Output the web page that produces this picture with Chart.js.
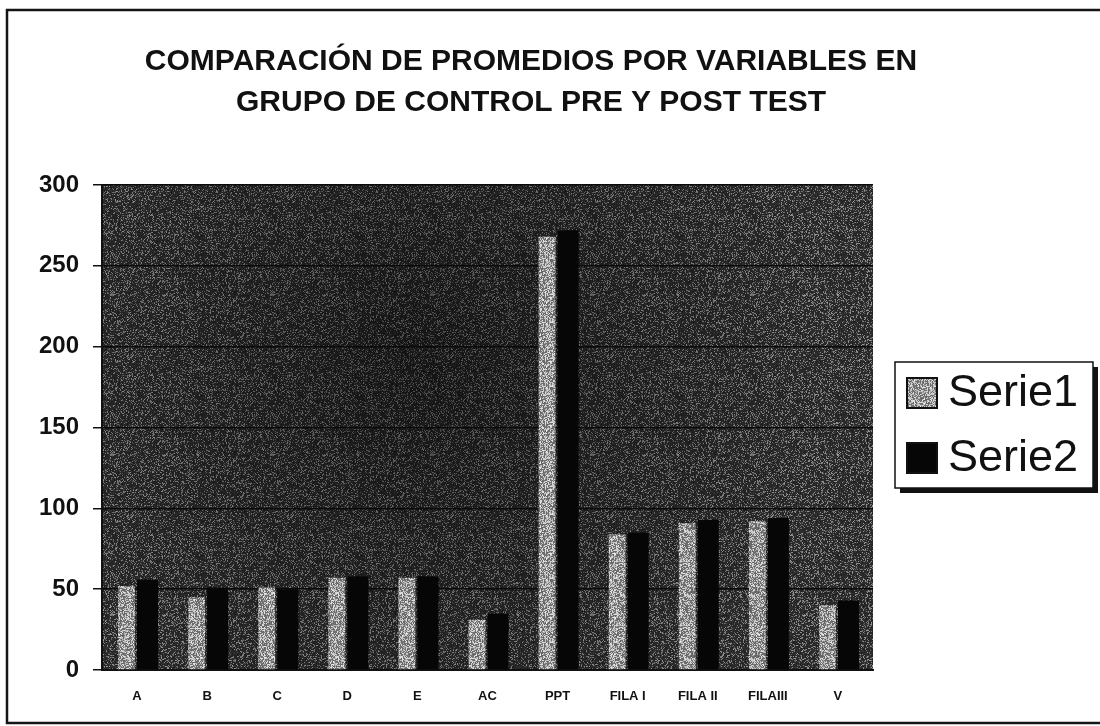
<!DOCTYPE html>
<html>
<head>
<meta charset="utf-8">
<script src="https://cdn.jsdelivr.net/npm/chart.js@4.4.1/dist/chart.umd.min.js"></script>
<style>
  html, body { margin: 0; padding: 0; background: #fff; }
  canvas { display: block; }
</style>
</head>
<body>
<canvas id="chart" width="1100" height="726"></canvas>
<script>
const titleLines = ["COMPARACIÓN DE PROMEDIOS POR VARIABLES EN", "GRUPO DE CONTROL PRE Y POST TEST"];
const categories = ["A", "B", "C", "D", "E", "AC", "PPT", "FILA I", "FILA II", "FILAIII", "V"];
const serie1 = [52, 45, 51, 57, 57, 31, 268, 84, 91, 92, 40];
const serie2 = [56, 51, 50, 58, 58, 35, 272, 85, 93, 94, 43];
const yTicks = [0, 50, 100, 150, 200, 250, 300];
const seriesNames = ["Serie1", "Serie2"];

const canvas = document.getElementById("chart");
const ctx = canvas.getContext("2d");

// speckled texture so fills look like the scanned print
function speckle(size, base, light, density, seed) {
  const c = document.createElement("canvas");
  c.width = c.height = size;
  const g = c.getContext("2d");
  const img = g.createImageData(size, size);
  let s = seed;
  const rnd = () => { s = (s * 1664525 + 1013904223) >>> 0; return s / 4294967296; };
  for (let i = 0; i < size * size; i++) {
    let v = base + (rnd() - 0.5) * 24;
    if (rnd() < density) v = light + (rnd() - 0.5) * 70;
    img.data[i * 4] = img.data[i * 4 + 1] = img.data[i * 4 + 2] = v;
    img.data[i * 4 + 3] = 255;
  }
  g.putImageData(img, 0, 0);
  return ctx.createPattern(c, "repeat");
}

const plotFill = speckle(160, 42, 125, 0.24, 7);
const serie1Fill = speckle(64, 110, 200, 0.5, 13);
const serie2Fill = "#060606";

const paperPlugin = {
  id: "paper",
  beforeDraw(chart) {
    const { ctx, chartArea: a } = chart;
    ctx.save();
    ctx.fillStyle = "#fff";
    ctx.fillRect(0, 0, chart.width, chart.height);

    // outer frame of the scanned page
    ctx.strokeStyle = "#151515";
    ctx.lineWidth = 2.5;
    ctx.beginPath();
    ctx.moveTo(1100, 10);
    ctx.lineTo(7, 10);
    ctx.lineTo(7, 723);
    ctx.lineTo(1100, 723);
    ctx.stroke();

    // plot background, darker towards the middle
    ctx.fillStyle = plotFill;
    ctx.fillRect(a.left, a.top, a.width, a.height);
    const dark = ctx.createRadialGradient(420, 360, 20, 420, 360, 420);
    dark.addColorStop(0, "rgba(0,0,0,0.45)");
    dark.addColorStop(1, "rgba(0,0,0,0)");
    ctx.fillStyle = dark;
    ctx.fillRect(a.left, a.top, a.width, a.height);
    ctx.restore();
  },
  afterDraw(chart) {
    const { ctx } = chart;
    ctx.save();
    ctx.fillStyle = "#111";

    // title
    ctx.font = "bold 30px 'Liberation Sans', Arial, sans-serif";
    ctx.textAlign = "center";
    ctx.textBaseline = "middle";
    titleLines.forEach((t, i) => ctx.fillText(t, 531, 62 + i * 41));

    // legend box with drop shadow
    const bx = 895, by = 362, bw = 198, bh = 126;
    ctx.fillStyle = "#111";
    ctx.fillRect(bx + 5, by + 5, bw, bh);
    ctx.fillStyle = "#fff";
    ctx.fillRect(bx, by, bw, bh);
    ctx.strokeStyle = "#111";
    ctx.lineWidth = 1.5;
    ctx.strokeRect(bx, by, bw, bh);

    ctx.font = "45px 'Liberation Sans', Arial, sans-serif";
    ctx.textAlign = "left";
    chart.data.datasets.forEach((ds, i) => {
      const cy = 393 + i * 65;
      ctx.fillStyle = ds.backgroundColor;
      ctx.fillRect(907, cy - 15, 30, 30);
      ctx.strokeStyle = "#111";
      ctx.lineWidth = 2;
      ctx.strokeRect(907, cy - 15, 30, 30);
      ctx.fillStyle = "#111";
      ctx.fillText(ds.label, 948, cy + 1);
    });
    ctx.restore();
  }
};

new Chart(ctx, {
  type: "bar",
  data: {
    labels: categories,
    datasets: [
      {
        label: seriesNames[0],
        data: serie1,
        backgroundColor: serie1Fill,
        barPercentage: 0.8,
        categoryPercentage: 0.6,
      },
      {
        label: seriesNames[1],
        data: serie2,
        backgroundColor: serie2Fill,
        barPercentage: 1.0,
        categoryPercentage: 0.6,
      },
    ],
  },
  options: {
    responsive: false,
    animation: false,
    layout: { padding: { top: 185, right: 227, left: 0, bottom: 0 } },
    plugins: {
      legend: { display: false },
      title: { display: false },
      tooltip: { enabled: false },
    },
    scales: {
      x: {
        grid: { display: false },
        border: { color: "#111", width: 2 },
        ticks: {
          color: "#111",
          padding: 11,
          maxRotation: 0,
          autoSkip: false,
          font: { family: "'Liberation Sans', Arial, sans-serif", size: 13, weight: "bold" },
        },
        afterFit: (scale) => { scale.height = 56; },
      },
      y: {
        min: 0,
        max: 300,
        afterBuildTicks: (scale) => { scale.ticks = yTicks.map((v) => ({ value: v })); },
        grid: { color: "#0a0a0a", lineWidth: 1.5, tickLength: 9, tickColor: "#111" },
        border: { color: "#111", width: 2 },
        ticks: {
          color: "#111",
          padding: 14,
          font: { family: "'Liberation Sans', Arial, sans-serif", size: 24, weight: "bold" },
        },
        afterFit: (scale) => { scale.width = 102; },
      },
    },
  },
  plugins: [paperPlugin],
});
</script>
</body>
</html>
